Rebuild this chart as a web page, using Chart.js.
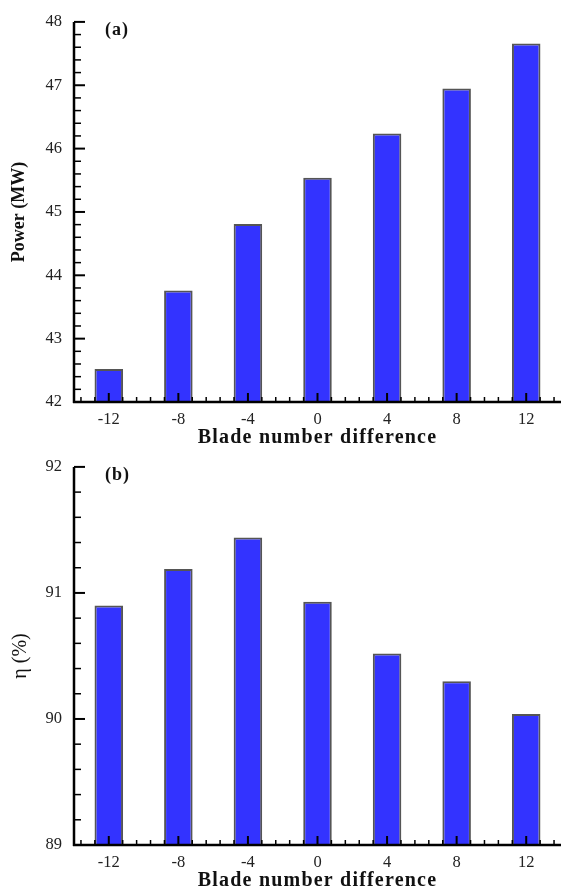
<!DOCTYPE html>
<html>
<head>
<meta charset="utf-8">
<script src="https://cdn.jsdelivr.net/npm/chart.js@4.4.0/dist/chart.umd.min.js"></script>
<style>
body { margin: 0; background: #fff; }
canvas { display: block; }
</style>
</head>
<body>
<canvas id="graficaA" width="562" height="445"></canvas>
<canvas id="graficaB" width="562" height="444"></canvas>
<script>
// datos
var diferencias = [-12, -8, -4, 0, 4, 8, 12];
var potencia = [42.52, 43.76, 44.81, 45.54, 46.24, 46.95, 47.66]; // MW
var eficiencia = [90.90, 91.19, 91.44, 90.93, 90.52, 90.30, 90.04]; // %
var ticksPotencia = [42, 43, 44, 45, 46, 47, 48];
var ticksEficiencia = [89, 90, 91, 92];
var rangoX = [-14, 14];
var tituloX = 'Blade number difference';

var fuente = "'Liberation Serif', 'Times New Roman', serif";

function linea(ctx, x1, y1, x2, y2, ancho) {
    ctx.lineWidth = ancho;
    ctx.beginPath();
    ctx.moveTo(x1, y1);
    ctx.lineTo(x2, y2);
    ctx.stroke();
}

// ejes con ticks hacia dentro (mayores y menores), encima de las barras
var pluginEjes = {
    id: 'ejes',
    afterDatasetsDraw: function (chart) {
        var ctx = chart.ctx, area = chart.chartArea;
        var sx = chart.scales.x, sy = chart.scales.y;
        ctx.save();
        ctx.strokeStyle = '#000';
        // eje Y
        var ty = sy.ticks.map(function (t) { return t.value; });
        for (var i = 0; i < ty.length; i++) {
            var py = sy.getPixelForValue(ty[i]);
            linea(ctx, area.left, py, area.left + 11, py, 2);
            if (i < ty.length - 1) {
                var paso = (ty[i + 1] - ty[i]) / 5;
                for (var k = 1; k < 5; k++) {
                    var pm = sy.getPixelForValue(ty[i] + paso * k);
                    linea(ctx, area.left, pm, area.left + 7, pm, 1.5);
                }
            }
        }
        // eje X
        var tx = sx.ticks.map(function (t) { return t.value; });
        var pasoX = (tx[1] - tx[0]) / 5;
        var k0 = -Math.floor((tx[0] - sx.min) / pasoX + 1e-6);
        for (var j = k0; tx[0] + j * pasoX <= sx.max + 1e-6; j++) {
            var px = sx.getPixelForValue(tx[0] + j * pasoX);
            if (j % 5 === 0) {
                linea(ctx, px, area.bottom, px, area.bottom - 9, 2);
            } else {
                linea(ctx, px, area.bottom, px, area.bottom - 5, 1.5);
            }
        }
        // lineas de los ejes
        linea(ctx, area.left, area.top, area.left, area.bottom + 1, 2.5);
        linea(ctx, area.left - 1, area.bottom, area.right, area.bottom, 2.5);
        ctx.restore();
    },
    afterDraw: function (chart, args, opts) {
        var ctx = chart.ctx, area = chart.chartArea;
        ctx.save();
        ctx.fillStyle = '#111';
        // titulo del eje X
        ctx.font = 'bold 20px ' + fuente;
        ctx.letterSpacing = '1.2px';
        ctx.textAlign = 'center';
        ctx.textBaseline = 'alphabetic';
        ctx.fillText(tituloX, (area.left + area.right) / 2, area.bottom + 41);
        // etiqueta del panel
        ctx.font = 'bold 18px ' + fuente;
        ctx.letterSpacing = '1px';
        ctx.textAlign = 'left';
        ctx.fillText(opts.panel, area.left + 31, area.top + 13);
        ctx.restore();
    }
};

function crearGrafica(id, valores, ticksY, tituloY, negrita, tamTitulo, altoX, panel) {
    return new Chart(document.getElementById(id), {
        type: 'bar',
        data: {
            datasets: [{
                data: diferencias.map(function (d, i) { return { x: d, y: valores[i] }; }),
                backgroundColor: '#3333ff',
                borderColor: '#555555',
                borderWidth: 2,
                barPercentage: 0.41,
                categoryPercentage: 1
            }]
        },
        options: {
            responsive: false,
            animation: false,
            layout: { padding: { top: 19, right: 1, left: 0, bottom: 0 } },
            plugins: {
                legend: { display: false },
                tooltip: { enabled: false },
                ejes: { panel: panel }
            },
            scales: {
                x: {
                    type: 'linear',
                    offset: false,
                    min: rangoX[0],
                    max: rangoX[1],
                    grid: { display: false, drawTicks: false },
                    border: { display: false },
                    afterBuildTicks: function (scale) {
                        scale.ticks = diferencias.map(function (v) { return { value: v }; });
                    },
                    afterFit: function (scale) { scale.height = altoX; },
                    ticks: {
                        padding: 8,
                        maxRotation: 0,
                        autoSkip: false,
                        color: '#222',
                        font: { family: fuente, size: 16.5 }
                    }
                },
                y: {
                    min: ticksY[0],
                    max: ticksY[ticksY.length - 1],
                    grid: { display: false, drawTicks: false },
                    border: { display: false },
                    afterBuildTicks: function (scale) {
                        scale.ticks = ticksY.map(function (v) { return { value: v }; });
                    },
                    afterFit: function (scale) { scale.width = 74; },
                    ticks: {
                        padding: 12,
                        color: '#222',
                        font: { family: fuente, size: 16.5 }
                    },
                    title: {
                        display: true,
                        text: tituloY,
                        color: '#111',
                        padding: { top: 9, bottom: 0 },
                        font: { family: fuente, size: tamTitulo, weight: negrita ? 'bold' : 'normal' }
                    }
                }
            }
        },
        plugins: [pluginEjes]
    });
}

var graficaA = crearGrafica('graficaA', potencia, ticksPotencia, 'Power (MW)', true, 18, 43, '(a)');
var graficaB = crearGrafica('graficaB', eficiencia, ticksEficiencia, 'η (%)', false, 20, 44, '(b)');
</script>
</body>
</html>
